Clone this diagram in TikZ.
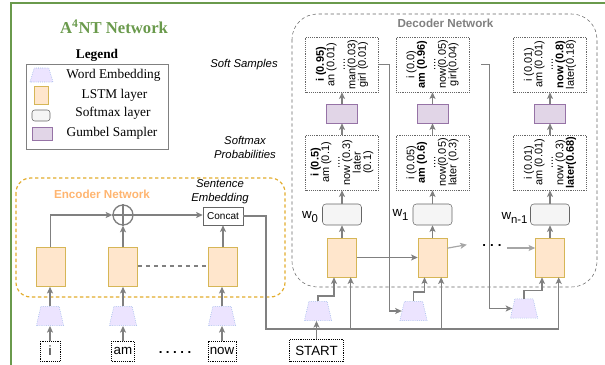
\documentclass[tikz,border=0pt]{standalone}
\usepackage{fontspec}
\setmainfont{Liberation Serif}
\setsansfont{Liberation Sans}
\usetikzlibrary{shapes.geometric,arrows.meta}

\definecolor{framegreen}{HTML}{6A9A4C}
\definecolor{lstmfill}{HTML}{FFE6CC}
\definecolor{lstmline}{HTML}{D6B656}
\definecolor{gumfill}{HTML}{E1D5E7}
\definecolor{gumline}{HTML}{9673A6}
\definecolor{smfill}{HTML}{F5F5F5}
\definecolor{smline}{HTML}{666666}
\definecolor{embfill}{HTML}{ECE4FF}
\definecolor{embline}{HTML}{7EA6E0}
\definecolor{encline}{HTML}{E2AC2C}
\definecolor{enctext}{HTML}{FFB570}
\definecolor{wiregray}{HTML}{808080}
\definecolor{lightgray}{HTML}{A6A6A6}

\tikzset{
  lstm/.style={draw=lstmline, fill=lstmfill, minimum width=21.75pt, minimum height=29.25pt, inner sep=0pt},
  softmax/.style={draw=smline, fill=smfill, rounded corners=2.5pt, minimum width=29.25pt, minimum height=15.75pt, inner sep=0pt},
  gumbel/.style={draw=gumline, fill=gumfill, minimum width=23.25pt, minimum height=14.25pt, inner sep=0pt},
  embed/.style={trapezium, trapezium angle=76, trapezium stretches=true, draw=embline, densely dotted, fill=embfill, minimum width=20.5pt, minimum height=14.5pt, inner sep=1pt},
  probbox/.style={draw=black!60, densely dotted, minimum width=54.75pt, minimum height=41.25pt, inner sep=0pt},
  probtext/.style={rotate=90, align=center, font=\sffamily\fontsize{8.2}{7.9}\selectfont, inner sep=0pt},
  wordbox/.style={draw, densely dotted, font=\sffamily\fontsize{10}{12}\selectfont, minimum height=15pt, minimum width=15pt, inner xsep=1.5pt, inner ysep=0pt},
  sidenote/.style={font=\sffamily\itshape\fontsize{8.5}{10.5}\selectfont, align=center},
  wlabel/.style={font=\sffamily\fontsize{10}{12}\selectfont, inner sep=0pt},
  link/.style={draw=wiregray, line width=0.9pt},
  arr/.style={link, -{Stealth[length=5pt, width=4.5pt, inset=1.2pt]}},
}

\begin{document}
\begin{tikzpicture}[x=0.75pt, y=-0.75pt]
  \useasboundingbox (0,0) rectangle (605,364);
  % frame and title
  \draw[framegreen, line width=1.5pt] (11,366) -- (11,3) -- (607,3);
  \node[font=\fontsize{12.5}{14}\selectfont\bfseries, text=framegreen] (title) at (114,27) {A\textsuperscript{4}NT Network};

  % legend
  \node[font=\bfseries] (legtitle) at (97,55) {Legend};
  \draw[wiregray] (26,64) rectangle (168,149);
  \node[embed, trapezium angle=74, minimum width=17.25pt, minimum height=10.5pt] (legemb) at (41.5,75) {};
  \node[lstm, minimum width=10.5pt, minimum height=13.5pt] (leglstm) at (41,95) {};
  \node[softmax, rounded corners=2pt, minimum width=13.5pt, minimum height=8.25pt] (legsm) at (41,115.5) {};
  \node[gumbel, minimum width=15pt, minimum height=9.75pt] (leggum) at (42,133.5) {};
  \node (legemb-t) at (113.5,75) {Word Embedding};
  \node (leglstm-t) at (114.5,95) {LSTM layer};
  \node (legsm-t) at (113,113) {Softmax layer};
  \node (leggum-t) at (112,133) {Gumbel Sampler};

  \node[sidenote] (softlbl) at (244,65) {Soft Samples};
  \node[sidenote] (problbl) at (245,147) {Softmax\\Probabilities};

  % encoder
  \draw[encline, line width=0.9pt, dash pattern=on 2.5pt off 2pt, rounded corners=11pt] (16,178) rectangle (285,297);
  \node[font=\sffamily\bfseries\fontsize{8.75}{10}\selectfont, text=enctext] (enclbl) at (102,194) {Encoder Network};
  \node[lstm] (e1) at (50.5,267) {};
  \node[lstm] (e2) at (123,267) {};
  \node[lstm] (e3) at (223,267) {};
  \node[embed] (x1) at (50,316) {};
  \node[embed] (x2) at (123,316) {};
  \node[embed] (x3) at (222,316) {};
  \node[wordbox] (w1) at (50,351) {i};
  \node[wordbox] (w2) at (123,351) {am};
  \node[wordbox] (w3) at (222,351) {now};
  \node[font=\sffamily\bfseries, inner sep=0pt] (wdots) at (175,352) {.\hspace{2.6pt}.\hspace{2.6pt}.\hspace{2.6pt}.\hspace{2.6pt}.};
  \node[circle, draw=wiregray, line width=1pt, minimum size=15pt, inner sep=0pt] (plus) at (123,215) {};
  \draw[wiregray, line width=1pt] (plus.north) -- (plus.south) (plus.west) -- (plus.east);
  \node[draw=smline, fill=white, font=\sffamily\fontsize{7.5}{9}\selectfont, minimum width=30pt, minimum height=13.5pt, inner sep=0pt] (concat) at (223,216) {Concat};
  \node[sidenote] (sentlbl) at (220,192) {Sentence\\Embedding};
  \foreach \i in {1,2,3} {
    \draw[arr] (w\i.north) -- (x\i.south);
    \draw[arr] (x\i.north) -- (x\i.north |- e\i.south);
  }
  \draw[arr] (e1.north) |- (plus.west);
  \draw[arr] (e2.north) -- (plus.south);
  \draw[arr] (plus.east) -- (plus.east -| concat.west);
  \draw[arr] (e3.north) -- (concat.south);
  \draw[link, dashed] ([yshift=0.75pt]e2.east) -- ([yshift=0.75pt]e3.west);

  % decoder
  \draw[smline, dash pattern=on 2.5pt off 2pt, rounded corners=19pt] (292,14) rectangle (597,287);
  \node[font=\sffamily\bfseries\fontsize{8.75}{10}\selectfont, text=wiregray] (declbl) at (445.5,23) {Decoder Network};
  \node[lstm] (d1) at (342,257.5) {};
  \node[lstm] (d2) at (432.5,257.5) {};
  \node[lstm] (d3) at (550,257.5) {};
  \node[softmax] (sm1) at (342,214.5) {};
  \node[softmax] (sm2) at (432.5,214.5) {};
  \node[softmax] (sm3) at (550,214.5) {};
  \node[probbox] (p1) at (342,162.5) {};
  \node[probbox] (p2) at (432.5,162.5) {};
  \node[probbox] (p3) at (550,162.5) {};
  \node[gumbel] (g1) at (342,113.5) {};
  \node[gumbel] (g2) at (432.5,113.5) {};
  \node[gumbel] (g3) at (550,113.5) {};
  \node[probbox] (s1) at (342,64.5) {};
  \node[probbox] (s2) at (432.5,64.5) {};
  \node[probbox] (s3) at (550,64.5) {};
  \node[probtext] (p1-t) at (p1) {\textbf{i (0.5)}\\am (0.1)\\....\\now (0.3)\\later\\(0.1)};
  \node[probtext] (p2-t) at (p2) {i (0.05)\\\textbf{am (0.6)}\\....\\now(0.05)\\later (0.3)};
  \node[probtext] (p3-t) at (p3) {i (0.01)\\am (0.01)\\....\\now (0.3)\\\textbf{later(0.68)}};
  \node[probtext] (s1-t) at (s1) {\textbf{i (0.95)}\\an (0.01)\\....\\man(0.03)\\girl (0.01)};
  \node[probtext] (s2-t) at (s2) {i (0.0)\\\textbf{am (0.96)}\\....\\now(0.05)\\girl(0.04)};
  \node[probtext] (s3-t) at (s3) {i (0.01)\\am (0.01)\\....\\\textbf{now (0.8)}\\later(0.18)};
  \node[wlabel] (wl0) at (310,217) {w\raisebox{-2.5pt}{\fontsize{8.5}{9}\selectfont 0}};
  \node[wlabel] (wl1) at (400.5,215) {w\raisebox{-2.5pt}{\fontsize{8.5}{9}\selectfont 1}};
  \node[wlabel] (wl2) at (514.5,218) {w\raisebox{-2.5pt}{\fontsize{8.5}{9}\selectfont n-1}};
  \foreach \i in {1,2,3} {
    \draw[arr] (d\i.north) -- (sm\i.south);
    \draw[arr] (sm\i.north) -- (p\i.south);
    \draw[arr] (p\i.north) -- (g\i.south);
    \draw[arr] (g\i.north) -- (s\i.south);
  }

  % decoder inputs
  \node[embed] (t1) at (318,311) {};
  \node[embed] (t2) at (413.5,311) {};
  \node[embed] (t3) at (524,308.5) {};
  \node[wordbox, minimum width=40.5pt, minimum height=16.5pt] (start) at (316.5,350.5) {START};
  \draw[arr] (start.north) -- (start.north |- t1.south);
  \draw[arr] (t1.north) -- ++(0,-5) -| ([xshift=-6pt]d1.south);
  \draw[arr] (t2.north) -- ++(0,-9) -| ([xshift=-6pt]d2.south);
  \draw[arr] (t3.north) -- ++(0,-8) -| ([xshift=-6pt]d3.south);
  \coordinate (busturn) at (266,329);
  \draw[link] (concat.east) -| (busturn) -- ([xshift=6.5pt]d3.south |- busturn);
  \foreach \i in {1,2,3}
    \draw[arr] ([xshift=6.5pt]d\i.south |- busturn) -- ([xshift=6.5pt]d\i.south);
  \draw[arr] (s1.east) -- ++(11,0) |- (t2.west);
  \draw[arr] ([xshift=9pt]s2.east) -- ++(8,0) |- (t3.west);

  % recurrence
  \draw[arr] (d1.east) -- (d2.west);
  \node[font=\sffamily\bfseries, inner sep=0pt] (ddots) at (492,246) {.\hspace{3pt}.\hspace{3pt}.};
  \draw[arr, draw=lightgray] ([yshift=7pt]d2.east) -- ([xshift=-11.5pt,yshift=1pt]ddots.west);
  \draw[arr, draw=lightgray] ([xshift=4pt,yshift=-1.5pt]ddots.east) -- ([yshift=-1.5pt]ddots.east -| d3.west);
\end{tikzpicture}
\end{document}
